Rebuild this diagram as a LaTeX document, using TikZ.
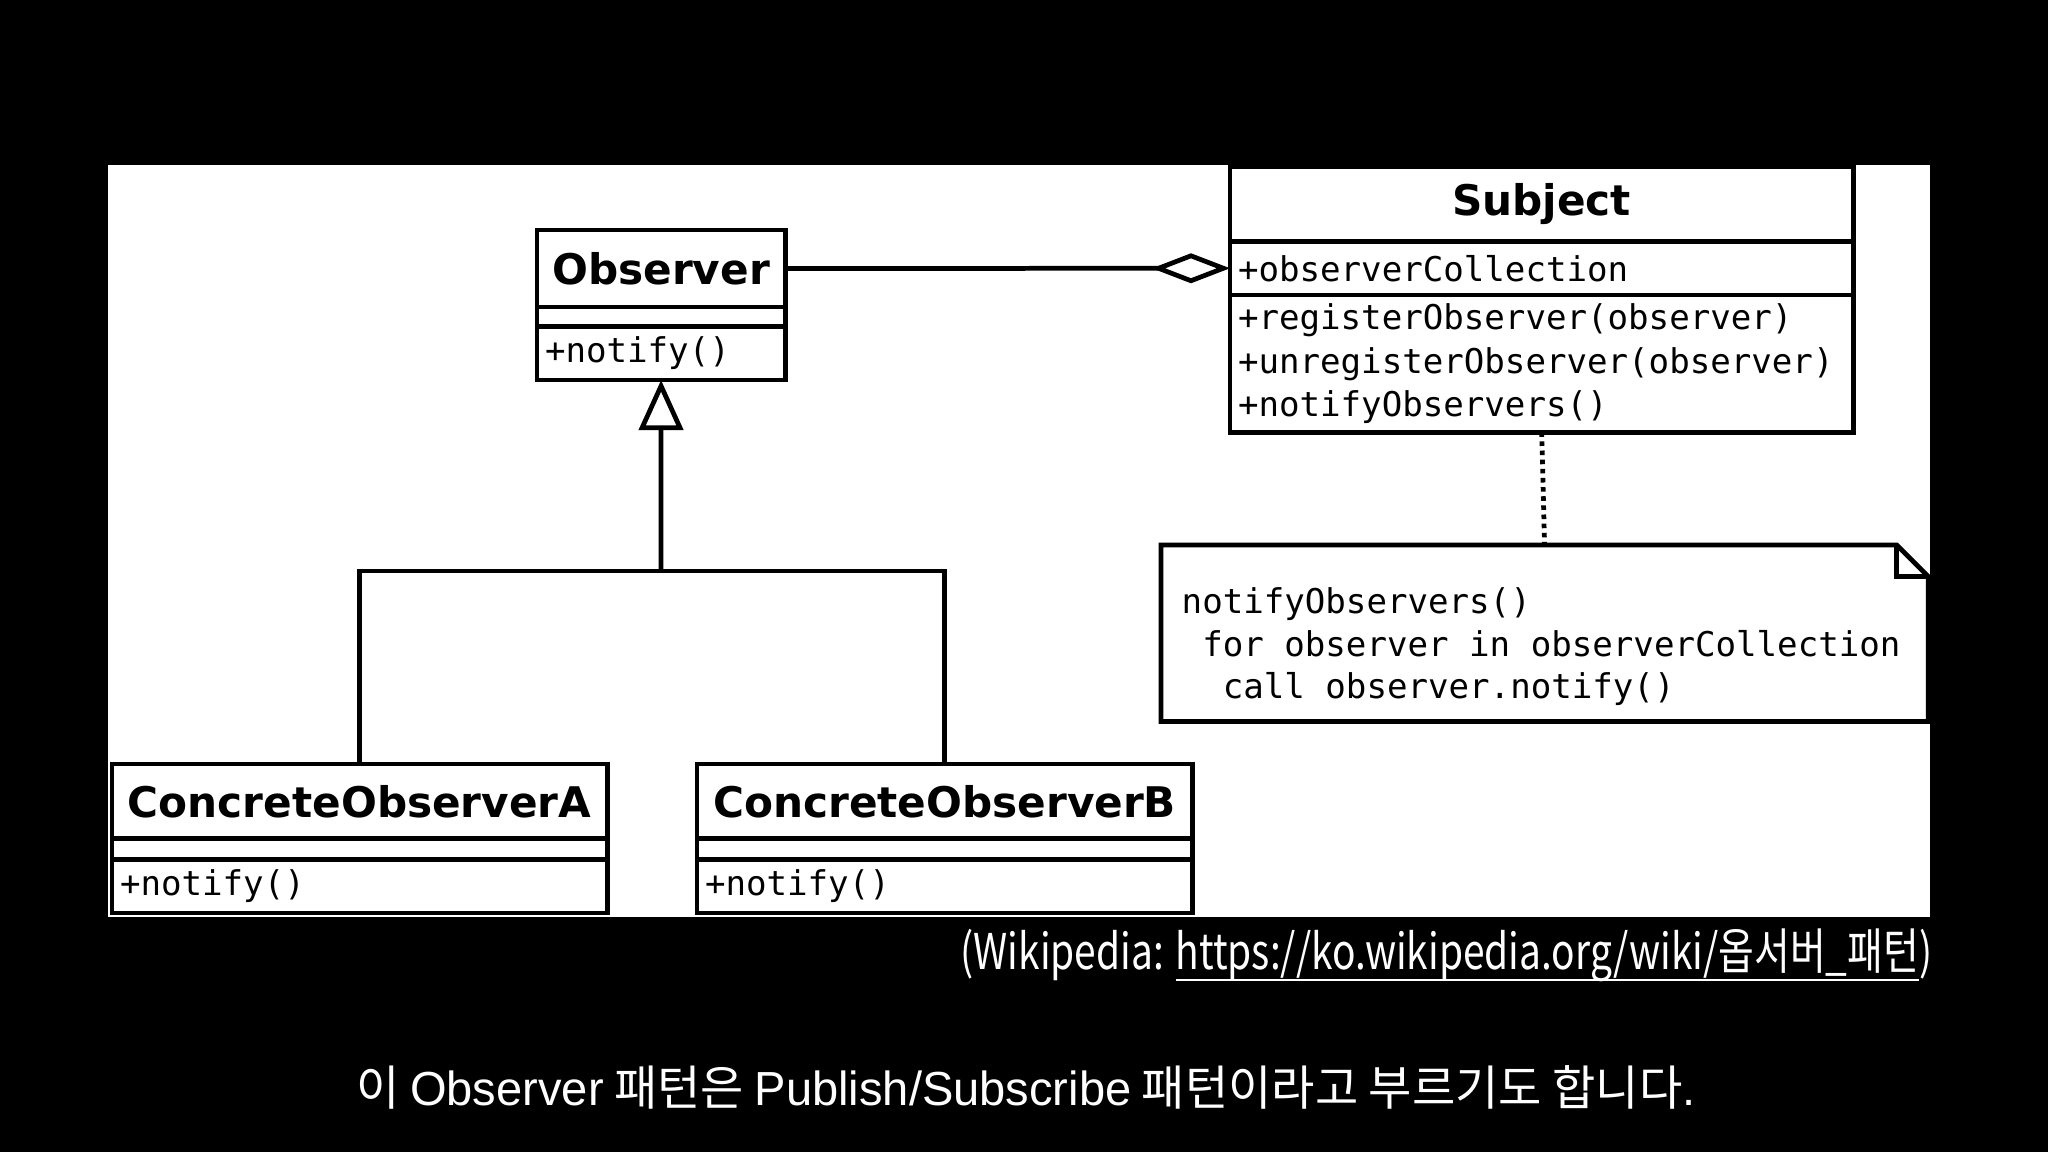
\documentclass[tikz,border=0pt]{standalone}
\usepackage{fontspec}
\usetikzlibrary{arrows.meta, positioning}
\newfontfamily\umlsans{DejaVu Sans}
\newfontfamily\umlmono{DejaVu Sans Mono}
\newfontfamily\korsans{Noto Sans CJK KR}
\newfontfamily\latsans{Liberation Sans}
\newcommand\linkline[1]{\setbox0\hbox{#1}\rlap{\rule[-3.4pt]{\wd0}{0.7pt}}\box0}

\begin{document}
\begin{tikzpicture}[
    x=0.01cm, y=-0.01cm,
    classname/.style={draw, line width=1.35pt, fill=white, outer sep=0pt, inner sep=0pt,
        font=\umlsans\bfseries\fontsize{12}{14}\selectfont, align=center},
    classpart/.style={draw, line width=1.35pt, fill=white, outer sep=0pt, inner xsep=0.08cm, inner ysep=0pt,
        font=\umlmono\fontsize{9.7}{12.4}\selectfont, align=left},
    notetext/.style={inner sep=0pt, font=\umlmono\fontsize{9.7}{12.1}\selectfont, align=left},
    umlline/.style={line width=1.35pt},
    aggregation/.style={umlline, -{Diamond[open, length=0.78cm, width=0.3cm]}},
    generalization/.style={umlline, -{Triangle[open, length=0.5cm, width=0.44cm]}},
    notelink/.style={umlline, dash pattern=on 1.3pt off 1.3pt},
    caption/.style={text=white, inner sep=0pt, font=\korsans\fontsize{14}{16}\selectfont},
    subtitle/.style={text=white, inner sep=0pt, font=\korsans\fontsize{13.6}{16}\selectfont}
]

% Frame
\fill[black] (0,0) rectangle (2048,1152);
\fill[white] (108,165) rectangle (1930,917);

% Observer
\node[classname, minimum width=2.48cm, minimum height=0.77cm, anchor=north west] (observer) at (537,230) {Observer};
\node[classpart, minimum width=2.48cm, minimum height=0.195cm, below=0pt of observer] (observer-attr) {};
\node[classpart, minimum width=2.48cm, minimum height=0.535cm, text width=2.32cm, below=0pt of observer-attr] (observer-ops) {+notify()};

% Subject
\node[classname, minimum width=6.23cm, minimum height=0.744cm, anchor=north west] (subject) at (1230,167) {Subject};
\node[classpart, minimum width=6.23cm, minimum height=0.536cm, text width=6.07cm, below=0pt of subject] (subject-attr) {+observerCollection};
\node[classpart, minimum width=6.23cm, minimum height=1.371cm, text width=6.07cm, below=0pt of subject-attr] (subject-ops)
    {+registerObserver(observer)\\+unregisterObserver(observer)\\+notifyObservers()};

% Concrete observers
\node[classname, minimum width=4.95cm, minimum height=0.745cm, anchor=north west] (concrete-a) at (112,764) {ConcreteObserverA};
\node[classpart, minimum width=4.95cm, minimum height=0.209cm, below=0pt of concrete-a] (concrete-a-attr) {};
\node[classpart, minimum width=4.95cm, minimum height=0.536cm, text width=4.79cm, below=0pt of concrete-a-attr] (concrete-a-ops) {+notify()};

\node[classname, minimum width=4.95cm, minimum height=0.745cm, anchor=north west] (concrete-b) at (697,764) {ConcreteObserverB};
\node[classpart, minimum width=4.95cm, minimum height=0.209cm, below=0pt of concrete-b] (concrete-b-attr) {};
\node[classpart, minimum width=4.95cm, minimum height=0.536cm, text width=4.79cm, below=0pt of concrete-b-attr] (concrete-b-ops) {+notify()};

% Note
\node[minimum width=7.667cm, minimum height=1.764cm, inner sep=0pt, outer sep=0pt, anchor=north west] (note) at (1161,545) {};
\draw[umlline] (note.north west) -- ([xshift=-0.313cm]note.north east) -- ([yshift=-0.313cm]note.north east)
    -- (note.south east) -- (note.south west) -- cycle;
\draw[umlline] ([xshift=-0.313cm]note.north east) |- ([yshift=-0.313cm]note.north east);
\node[notetext, anchor=west] (note-body) at (1181,647)
    {notifyObservers()\\\hphantom{x}for observer in observerCollection\\\hphantom{xx}call observer.notify()};

% Connectors
\coordinate (fork) at (661,571);
\draw[aggregation] (observer.east) -- (subject-attr.west);
\draw[generalization] (fork) -- (observer-ops.south);
\draw[umlline] (concrete-a.north) |- (fork) -| (concrete-b.north);
\draw[notelink] (subject-ops.south) -- (note.north);

% Captions
\node[caption, anchor=base east] (source) at (1933,969)
    {\scalebox{0.79}[1]{(Wikipedia: \linkline{https://ko.wikipedia.org/wiki/옵서버\_패턴})}};
\node[subtitle, anchor=base] (subtitle) at (1026,1105)
    {\scalebox{0.984}[1]{이 {\latsans Observer} 패턴은 {\latsans Publish/Subscribe} 패턴이라고 부르기도 합니다{\latsans .}}};

\end{tikzpicture}
\end{document}
